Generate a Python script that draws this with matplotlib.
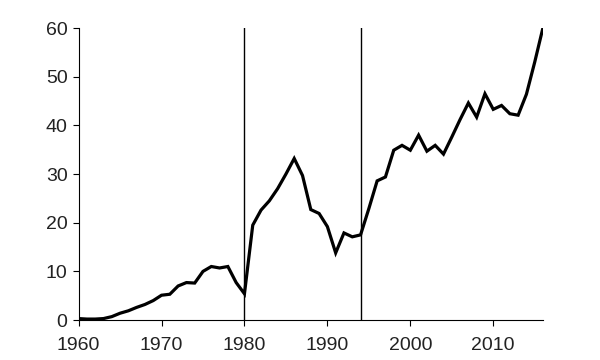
import matplotlib
matplotlib.use("Agg")
import matplotlib.pyplot as plt

plt.rcParams['font.family'] = ['Liberation Sans', 'DejaVu Sans']

years = list(range(1960, 2017))
values = [
    0.3, 0.2, 0.2, 0.3, 0.7, 1.4, 1.9, 2.6, 3.2, 4.0,      # 1960s
    5.1, 5.3, 7.0, 7.7, 7.6, 10.0, 11.0, 10.7, 11.0, 7.7,  # 1970s
    5.4, 19.5, 22.6, 24.5, 27.0, 30.0, 33.2, 29.7, 22.7, 21.9,  # 1980s
    19.2, 13.8, 17.9, 17.1, 17.5, 22.9, 28.6, 29.4, 34.9, 35.9,  # 1990s
    34.9, 38.0, 34.7, 35.9, 34.1, 37.6, 41.2, 44.6, 41.7, 46.5,  # 2000s
    43.3, 44.1, 42.4, 42.1, 46.4, 53.0, 60.1,              # 2010s
]
break_years = [1980, 1994]
x_ticks = [1960, 1970, 1980, 1990, 2000, 2010]
y_ticks = [0, 10, 20, 30, 40, 50, 60]

fig = plt.figure(figsize=(6, 3.6), dpi=100)
ax = fig.add_axes([0.131, 0.111, 0.774, 0.811])

ax.plot(years, values, color='black', lw=2.3, solid_joinstyle='miter')
for yr in break_years:
    ax.axvline(yr, color='black', lw=1.0)

ax.set_xlim(1960, 2016)
ax.set_ylim(0, 60)
ax.set_xticks(x_ticks)
ax.set_yticks(y_ticks)

for side in ['top', 'right']:
    ax.spines[side].set_visible(False)
for side in ['left', 'bottom']:
    ax.spines[side].set_linewidth(0.8)

ax.tick_params(direction='out', length=4, width=0.8, labelsize=14,
               labelcolor='#222222')
ax.tick_params(axis='x', pad=8)
ax.tick_params(axis='y', pad=4)

fig.savefig('out.png', dpi=100)
